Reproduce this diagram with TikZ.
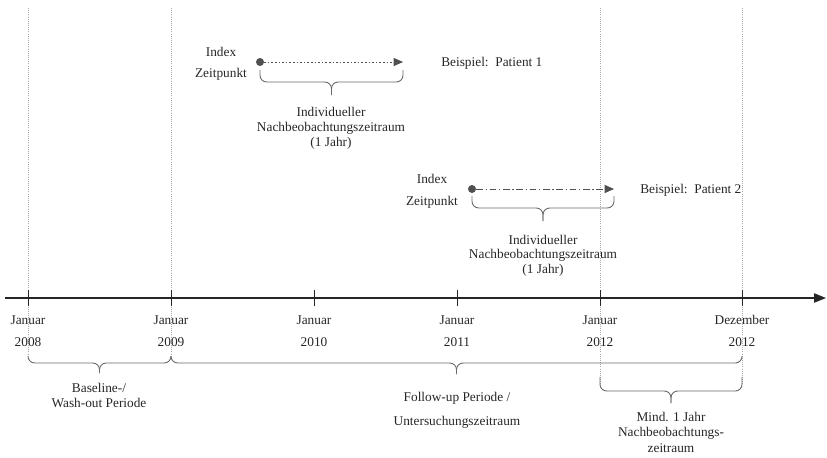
\documentclass[tikz,border=0pt]{standalone}
\usepackage{fontspec}
\setmainfont{Liberation Serif}
\usetikzlibrary{arrows.meta,calc}
\definecolor{txt}{HTML}{262626}
\definecolor{ln}{HTML}{505050}
\definecolor{guide}{HTML}{A8A8A8}
\tikzset{
  lbl/.style={text=txt,font=\fontsize{10}{12}\selectfont,inner sep=0pt,align=center},
  guideline/.style={guide,densely dotted,line width=0.6pt},
  tick/.style={black!85,line width=0.7pt},
  brc/.style={draw=ln!85,line width=0.7pt,rounded corners=5pt},
  dotmark/.style={circle,fill=ln,inner sep=0pt,minimum size=6pt},
}
% Word-style brace between two named coordinates: #1,#2 ends, #3 depth of bar, #4 depth of tip (px)
\newcommand\wordbrace[4]{%
  \draw[brc] (#1) -- ($(#1)+(0,#3)$) -- ($($(#1)!0.5!(#2)$)+(0,#3)$) -- ($($(#1)!0.5!(#2)$)+(0,#4)$);
  \draw[brc] (#2) -- ($(#2)+(0,#3)$) -- ($($(#1)!0.5!(#2)$)+(0,#3)$) -- ($($(#1)!0.5!(#2)$)+(0,#4)$);
}
\begin{document}
\begin{tikzpicture}[x=0.75pt,y=-0.75pt]
\useasboundingbox (0,0) rectangle (827,457);
% guide lines
\coordinate (g1t) at (28,8);   \coordinate (g1b) at (28,355);
\coordinate (g2t) at (171,8);  \coordinate (g2b) at (171,355);
\coordinate (g3t) at (600,8);  \coordinate (g3b) at (600,385);
\coordinate (g4t) at (742,8);  \coordinate (g4b) at (742,385);
\draw[guideline] (g1t) -- (g1b);
\draw[guideline] (g2t) -- (g2b);
\draw[guideline] (g3t) -- (g3b);
\draw[guideline] (g4t) -- (g4b);
% axis
\coordinate (ax0) at (5,298); \coordinate (ax1) at (826,298);
\draw[black!85,line width=0.8pt,-{Triangle[length=9pt,width=7pt]}] (ax0) -- (ax1);
% ticks and labels
\foreach \x/\m/\yr/\n in {28/Januar/2008/a,171/Januar/2009/b,314/Januar/2010/c,457/Januar/2011/d,600/Januar/2012/e,742/Dezember/2012/f}{
  \coordinate (t\n a) at (\x,290); \coordinate (t\n b) at (\x,306);
  \draw[tick] (t\n a) -- (t\n b);
  \node[lbl] (m\n) at (\x,320) {\m};
  \node[lbl] (y\n) at (\x,342) {\yr};
}
% bottom braces
\coordinate (b1a) at (28,356); \coordinate (b1b) at (171,356);
\wordbrace{b1a}{b1b}{7}{17}
\node[lbl] (base1) at (99,388) {Baseline-/};
\node[lbl] (base2) at (99,403) {Wash-out Periode};
\coordinate (b2a) at (171,356); \coordinate (b2b) at (742,356);
\wordbrace{b2a}{b2b}{7}{18}
\node[lbl] (fu1) at (457,398) {Follow-up Periode /};
\node[lbl] (fu2) at (457,422) {Untersuchungszeitraum};
\coordinate (b3a) at (600,377); \coordinate (b3b) at (742,377);
\wordbrace{b3a}{b3b}{14}{26}
\node[lbl] (mi1) at (671,417) {Mind. 1 Jahr};
\node[lbl] (mi2) at (671,433) {Nachbeobachtungs-};
\node[lbl] (mi3) at (671,448) {zeitraum};
% patient 1
\node[dotmark] (p1) at (260,62) {};
\coordinate (p1e) at (403,62);
\draw[ln,dash pattern=on 1.2pt off 1.5pt,line width=0.7pt,-{Triangle[length=7pt,width=6pt]}] (p1) -- (p1e);
\node[lbl] (i1) at (221,52) {Index};
\node[lbl] (z1) at (221,74) {Zeitpunkt};
\node[lbl,anchor=west] (bp1) at (441,63) {Beispiel:\ \ Patient 1};
\coordinate (c1a) at (260,70); \coordinate (c1b) at (403,70);
\wordbrace{c1a}{c1b}{12}{25}
\node[lbl] (n1a) at (331,112) {Individueller};
\node[lbl] (n1b) at (331,128) {Nachbeobachtungszeitraum};
\node[lbl] (n1c) at (331,143) {(1 Jahr)};
% patient 2
\node[dotmark] (p2) at (472,189) {};
\coordinate (p2e) at (614,189);
\draw[ln,dash pattern=on 5pt off 2pt on 1pt off 2pt,line width=0.7pt,-{Triangle[length=7pt,width=6pt]}] (p2) -- (p2e);
\node[lbl] (i2) at (432,179) {Index};
\node[lbl] (z2) at (432,202) {Zeitpunkt};
\node[lbl,anchor=west] (bp2) at (640,190) {Beispiel:\ \ Patient 2};
\coordinate (c2a) at (472,196); \coordinate (c2b) at (614,196);
\wordbrace{c2a}{c2b}{12}{25}
\node[lbl] (n2a) at (543,240) {Individueller};
\node[lbl] (n2b) at (543,255) {Nachbeobachtungszeitraum};
\node[lbl] (n2c) at (543,270) {(1 Jahr)};
\end{tikzpicture}
\end{document}
